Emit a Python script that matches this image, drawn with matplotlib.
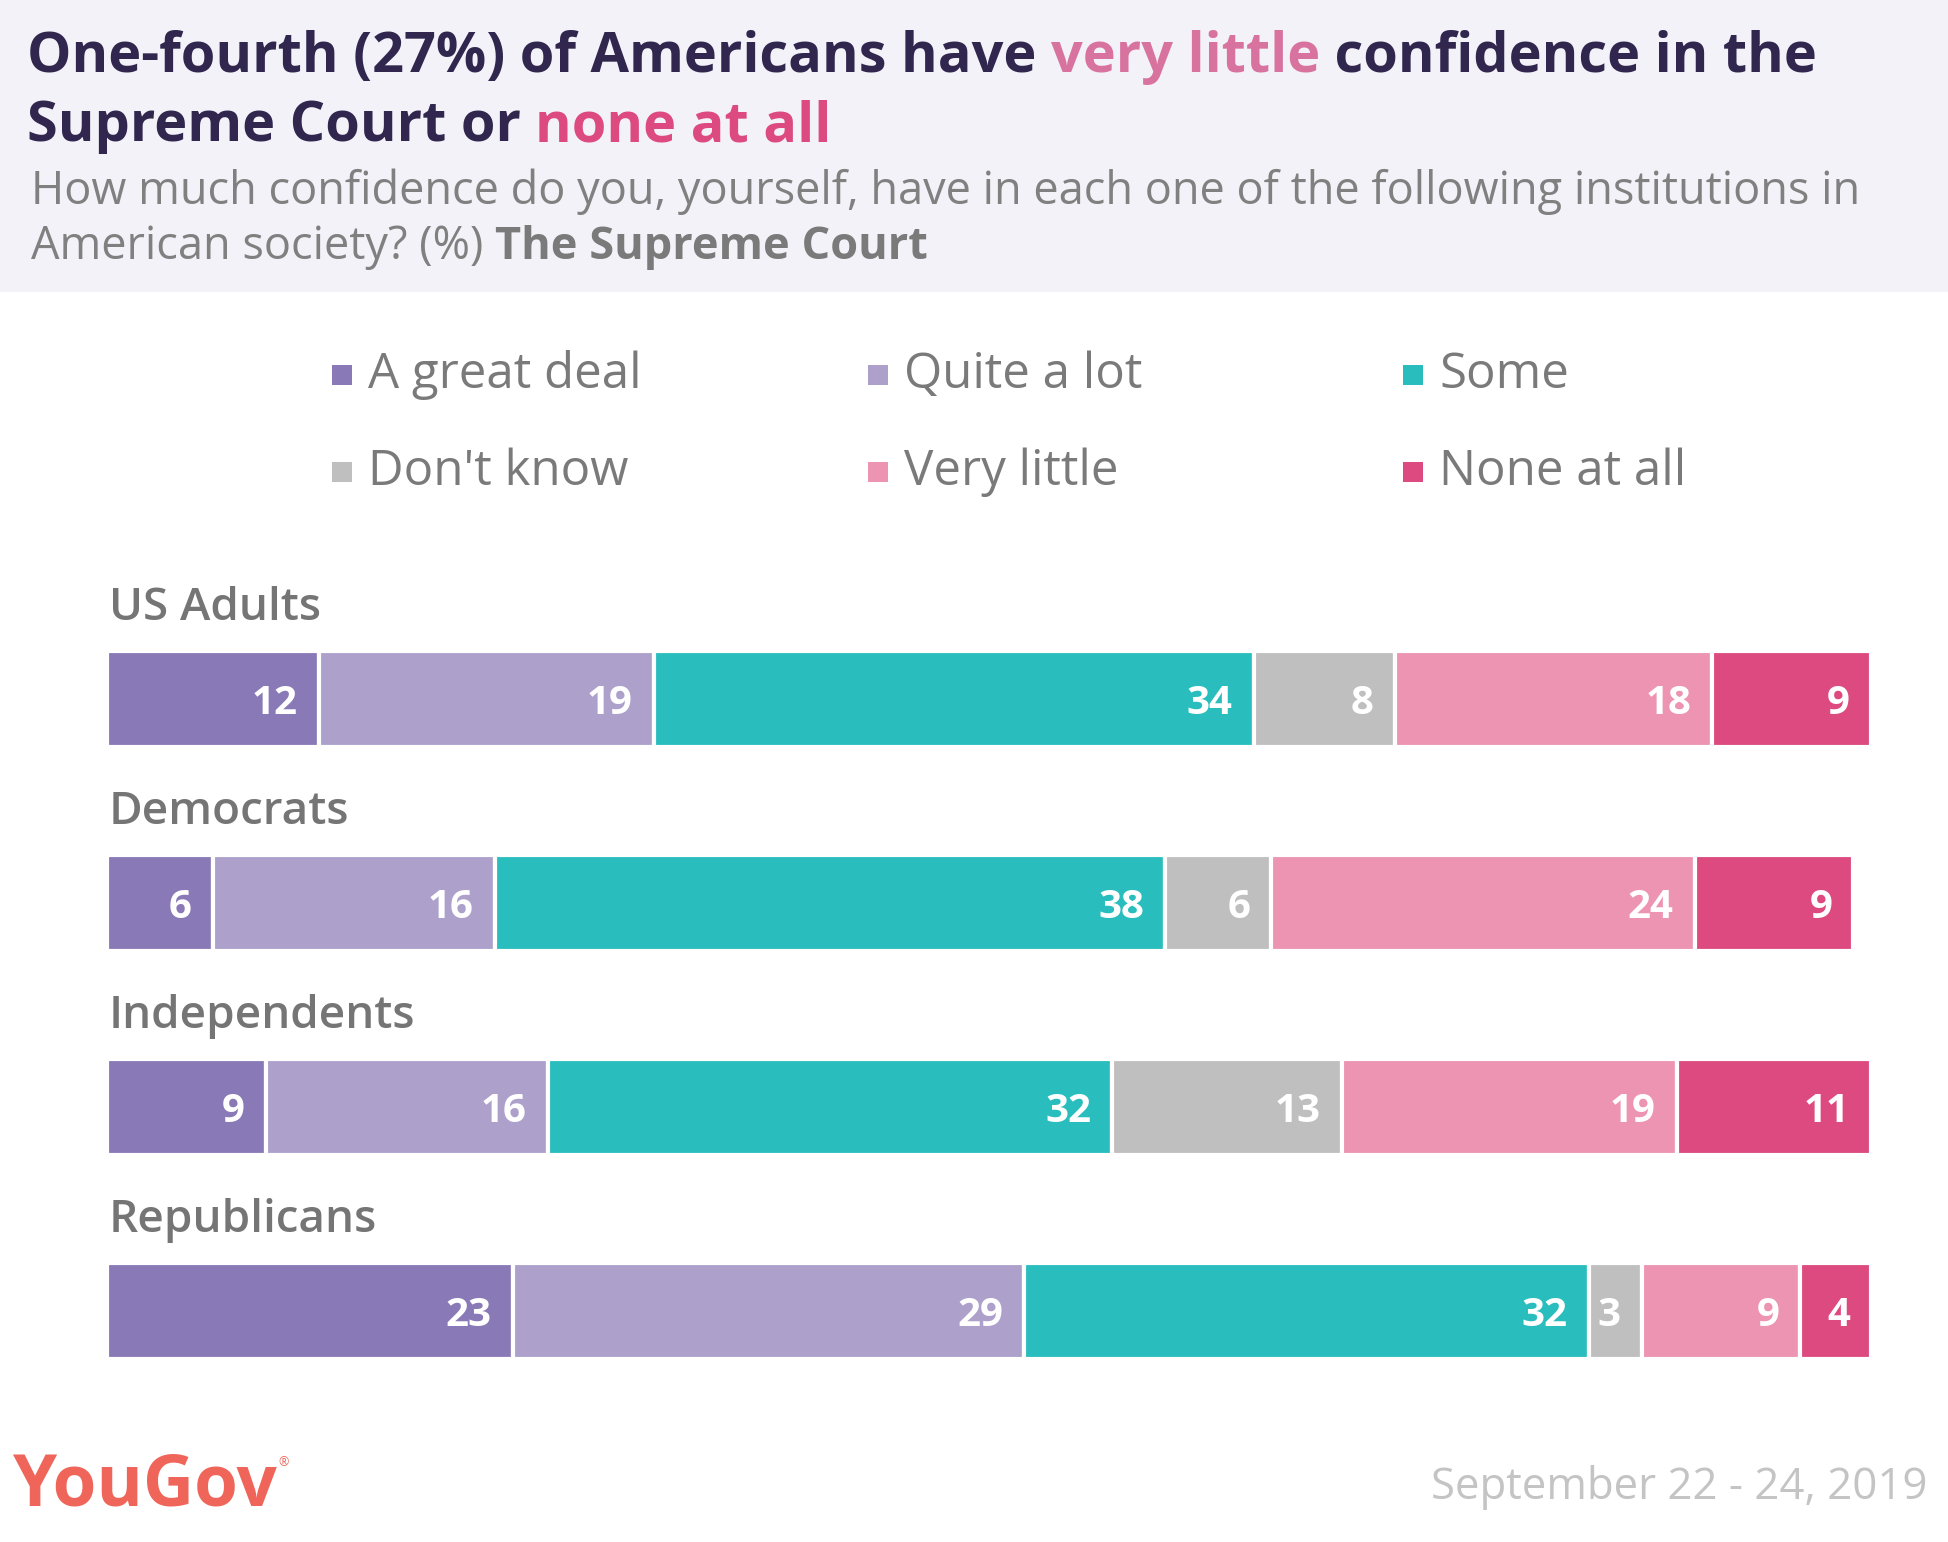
import matplotlib.pyplot as plt
from matplotlib.patches import Rectangle
import numpy as np

# Dades
groups = ['US Adults', 'Democrats', 'Independents', 'Republicans']
categories = ['A great deal', 'Quite a lot', 'Some', "Don't know", 'Very little', 'None at all']
colors = ['#8a79b7', '#ada1cc', '#29bebd', '#bfbfbf', '#ec94b2', '#dd4a80']
great_deal = [12, 6, 9, 23]
quite_a_lot = [19, 16, 16, 29]
some = [34, 38, 32, 32]
dont_know = [8, 6, 13, 3]
very_little = [18, 24, 19, 9]
none_at_all = [9, 9, 11, 4]

series = [great_deal, quite_a_lot, some, dont_know, very_little, none_at_all]

W, H = 1949, 1542
plt.rcParams['font.family'] = ['Open Sans', 'DejaVu Sans']
fig = plt.figure(figsize=(W / 100, H / 100), dpi=100)
fig.patch.set_facecolor('white')

def fx(px):
    return px / W

def fy(py):
    return 1 - py / H

# Capçalera
fig.patches.append(Rectangle((0, fy(292)), 1, 292 / H, transform=fig.transFigure,
                             facecolor='#f3f2f8', edgecolor='none', zorder=0))

renderer = fig.canvas.get_renderer()

def rich_line(x, y, parts, **kw):
    for txt, col, wt in parts:
        t = fig.text(x, y, txt, color=col, fontweight=wt, va='baseline', ha='left', **kw)
        bb = t.get_window_extent(renderer)
        x += bb.width / W
    return x

dark = '#30264e'
rich_line(fx(27), fy(72), [('One-fourth (27%) of Americans have ', dark, 'bold'),
                           ('very little', '#d8739f', 'bold'),
                           (' confidence in the', dark, 'bold')], fontsize=40.2)
rich_line(fx(27), fy(141), [('Supreme Court or ', dark, 'bold'),
                            ('none at all', '#dc4a80', 'bold')], fontsize=40.2)
rich_line(fx(31), fy(204), [('How much confidence do you, yourself, have in each one of the following institutions in', '#808080', 'normal')], fontsize=32.5)
rich_line(fx(31), fy(259), [('American society? (%) ', '#808080', 'normal'),
                            ('The Supreme Court', '#7a7a7a', 'bold')], fontsize=32.5)

# Llegenda
leg_x = [342, 878, 1413]
leg_y = [375, 472]
for i, (cat, col) in enumerate(zip(categories, colors)):
    cx = leg_x[i % 3]
    cy = leg_y[i // 3]
    fig.patches.append(Rectangle((fx(cx - 10), fy(cy + 10)), 20 / W, 20 / H,
                                 transform=fig.transFigure, facecolor=col, edgecolor='none'))
    fig.text(fx(cx + 26), fy(cy), cat, color='#7a7a7a', fontsize=35.5, va='center', ha='left')

# Barres
ax = fig.add_axes([fx(107), fy(1413), (1871 - 107) / W, (1413 - 597) / H])
ax.set_xlim(0, 100)
ax.set_ylim(3.5, -0.5)
ax.axis('off')

y = np.arange(len(groups))
left = np.zeros(len(groups))
for vals, col in zip(series, colors):
    vals = np.array(vals)
    ax.barh(y, vals, left=left, height=0.47, color=col, edgecolor='white', linewidth=3)
    for yi, l, v in zip(y, left, vals):
        ax.text(l + v - 1.2, yi + 0.02, str(v), color='white', fontsize=29,
                fontweight='bold', ha='right', va='center')
    left += vals

for yi, g in zip(y, groups):
    ax.text(0.1, yi - 0.445, g, color='#757575', fontsize=33, fontweight='semibold',
            ha='left', va='center')

# Peu
logo = fig.text(fx(12), fy(1487), 'YouGov', color='#f0655a', fontsize=51, fontweight='bold',
                va='center', ha='left')
lb = logo.get_window_extent(renderer)
fig.text(lb.x1 / W + 0.001, fy(1463), '®', color='#f0655a', fontsize=9, va='center', ha='left')
fig.text(fx(1928), fy(1487), 'September 22 - 24, 2019', color='#c4c4c4', fontsize=31.5,
         va='center', ha='right')

fig.savefig('out.png', dpi=100)
